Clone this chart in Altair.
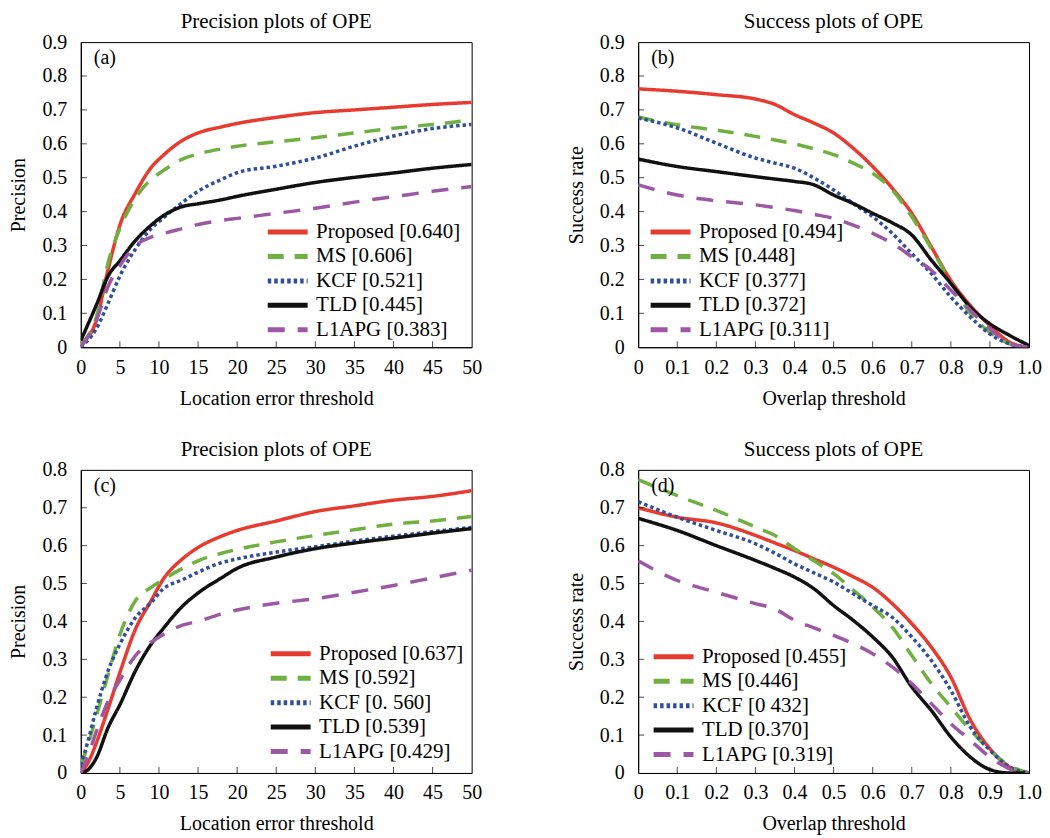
import altair as alt
import pandas as pd

FONT = "Liberation Serif, Times New Roman, serif"

# ---------------- data ----------------
series = ["Proposed", "MS", "KCF", "TLD", "L1APG"]
colors = ["#E63B2E", "#6FB040", "#2F4E9C", "#111111", "#9C58A5"]
dashes = [[1, 0], [16, 11], [3.5, 3], [1, 0], [17, 13]]

# panel (a): precision, location error threshold
xa = [0, 2, 3.5, 5, 7, 9, 10.5, 13, 15, 18, 20, 25, 30, 35, 40, 45, 50]
a_proposed = [0.01, 0.08, 0.23, 0.36, 0.455, 0.53, 0.565, 0.61, 0.632, 0.65, 0.66, 0.678, 0.692, 0.70, 0.708, 0.716, 0.722]
a_ms = [0.01, 0.09, 0.25, 0.35, 0.44, 0.495, 0.52, 0.555, 0.57, 0.585, 0.593, 0.606, 0.618, 0.632, 0.646, 0.657, 0.67]
a_kcf = [0.0, 0.055, 0.13, 0.21, 0.29, 0.35, 0.38, 0.427, 0.46, 0.495, 0.515, 0.534, 0.558, 0.593, 0.623, 0.645, 0.657]
a_tld = [0.02, 0.125, 0.21, 0.255, 0.315, 0.36, 0.387, 0.415, 0.423, 0.435, 0.445, 0.466, 0.486, 0.501, 0.514, 0.528, 0.539]
a_l1apg = [0.0, 0.08, 0.18, 0.24, 0.30, 0.325, 0.335, 0.35, 0.362, 0.374, 0.38, 0.395, 0.41, 0.428, 0.444, 0.46, 0.474]
a_scores = ["0.640", "0.606", "0.521", "0.445", "0.383"]

# panel (b): success, overlap threshold
xb = [0, 0.1, 0.2, 0.3, 0.35, 0.4, 0.45, 0.5, 0.55, 0.6, 0.65, 0.7, 0.75, 0.8, 0.85, 0.9, 0.95, 1.0]
b_proposed = [0.762, 0.755, 0.745, 0.732, 0.716, 0.686, 0.661, 0.632, 0.587, 0.533, 0.469, 0.395, 0.296, 0.197, 0.123, 0.064, 0.015, 0.0]
b_ms = [0.679, 0.656, 0.64, 0.622, 0.611, 0.60, 0.585, 0.568, 0.543, 0.513, 0.464, 0.385, 0.291, 0.192, 0.099, 0.044, 0.01, 0.0]
b_kcf = [0.676, 0.647, 0.602, 0.558, 0.543, 0.528, 0.499, 0.464, 0.424, 0.385, 0.336, 0.276, 0.217, 0.148, 0.089, 0.039, 0.01, 0.0]
b_tld = [0.555, 0.533, 0.518, 0.503, 0.496, 0.489, 0.479, 0.449, 0.424, 0.395, 0.367, 0.331, 0.257, 0.188, 0.118, 0.069, 0.035, 0.005]
b_l1apg = [0.479, 0.449, 0.432, 0.42, 0.412, 0.403, 0.392, 0.38, 0.36, 0.336, 0.306, 0.267, 0.227, 0.168, 0.109, 0.054, 0.01, 0.0]
b_scores = ["0.494", "0.448", "0.377", "0.372", "0.311"]

# panel (c): precision, location error threshold
xc = [0, 1, 2, 3.5, 5, 7, 9, 10.5, 13, 15, 18, 20, 25, 30, 35, 40, 45, 50]
c_proposed = [0.0, 0.03, 0.08, 0.17, 0.265, 0.38, 0.455, 0.51, 0.565, 0.595, 0.625, 0.64, 0.665, 0.69, 0.705, 0.72, 0.73, 0.745]
c_ms = [0.02, 0.08, 0.15, 0.26, 0.365, 0.455, 0.49, 0.51, 0.54, 0.56, 0.58, 0.59, 0.61, 0.627, 0.642, 0.657, 0.665, 0.677]
c_kcf = [0.02, 0.09, 0.17, 0.27, 0.34, 0.41, 0.45, 0.485, 0.51, 0.53, 0.555, 0.565, 0.583, 0.597, 0.612, 0.625, 0.637, 0.648]
c_tld = [0.0, 0.01, 0.04, 0.12, 0.18, 0.27, 0.34, 0.38, 0.44, 0.475, 0.515, 0.54, 0.57, 0.592, 0.607, 0.62, 0.633, 0.645]
c_l1apg = [0.0, 0.05, 0.11, 0.19, 0.245, 0.31, 0.345, 0.365, 0.39, 0.40, 0.42, 0.43, 0.448, 0.46, 0.477, 0.495, 0.515, 0.535]
c_scores = ["0.637", "0.592", "0. 560", "0.539", "0.429"]

# panel (d): success, overlap threshold
xd = [0, 0.1, 0.2, 0.3, 0.35, 0.4, 0.45, 0.5, 0.55, 0.6, 0.65, 0.7, 0.75, 0.8, 0.85, 0.9, 0.95, 1.0]
d_proposed = [0.70, 0.675, 0.66, 0.627, 0.607, 0.587, 0.565, 0.543, 0.518, 0.49, 0.447, 0.394, 0.332, 0.253, 0.14, 0.064, 0.016, 0.0]
d_ms = [0.774, 0.732, 0.693, 0.649, 0.627, 0.592, 0.56, 0.526, 0.483, 0.438, 0.385, 0.31, 0.236, 0.174, 0.113, 0.06, 0.02, 0.0]
d_kcf = [0.716, 0.675, 0.64, 0.605, 0.58, 0.552, 0.528, 0.504, 0.473, 0.442, 0.411, 0.359, 0.297, 0.218, 0.121, 0.06, 0.016, 0.0]
d_tld = [0.672, 0.64, 0.60, 0.561, 0.54, 0.517, 0.486, 0.442, 0.403, 0.359, 0.306, 0.227, 0.165, 0.095, 0.042, 0.009, 0.0, 0.0]
d_l1apg = [0.56, 0.508, 0.477, 0.447, 0.433, 0.403, 0.383, 0.363, 0.341, 0.315, 0.28, 0.236, 0.183, 0.13, 0.086, 0.042, 0.011, 0.0]
d_scores = ["0.455", "0.446", "0 432", "0.370", "0.319"]

loc_ticks = [0, 5, 10, 15, 20, 25, 30, 35, 40, 45, 50]
ovl_ticks = [0, 0.1, 0.2, 0.3, 0.4, 0.5, 0.6, 0.7, 0.8, 0.9, 1.0]
y9_ticks = [0, 0.1, 0.2, 0.3, 0.4, 0.5, 0.6, 0.7, 0.8, 0.9]
y8_ticks = [0, 0.1, 0.2, 0.3, 0.4, 0.5, 0.6, 0.7, 0.8]

ONE_DEC = "datum.value == 0 ? '0' : format(datum.value, '.1f')"


def panel(letter, title, xtitle, ytitle, xgrid, ylists, scores, xticks, yticks,
          xfmt, height, lx, ly):
    labels = [f"{s} [{sc}]" for s, sc in zip(series, scores)]
    rows = []
    for lab, yv in zip(labels, ylists):
        for xv, yy in zip(xgrid, yv):
            rows.append({"x": xv, "y": yy, "series": lab})
    df = pd.DataFrame(rows)
    xmax, ymax = xticks[-1], yticks[-1]
    xs = alt.Scale(domain=[0, xmax], nice=False, zero=False)
    ysc = alt.Scale(domain=[0, ymax], nice=False, zero=False)
    xaxis_kw = dict(values=xticks, title=xtitle, ticks=False, tickSize=0, grid=False,
                    labelPadding=10, titlePadding=11, labelFlush=False, labelOverlap=False,
                    labelFont=FONT, titleFont=FONT)
    if xfmt:
        xaxis_kw["labelExpr"] = ONE_DEC
    xaxis = alt.Axis(**xaxis_kw)
    yaxis = alt.Axis(values=yticks, title=ytitle, ticks=False, tickSize=0, grid=False,
                     labelPadding=14, titlePadding=13, labelExpr=ONE_DEC,
                     labelFlush=False, labelOverlap=False, labelFont=FONT, titleFont=FONT)
    leg = alt.Legend(orient="none", legendX=lx, legendY=ly, title=None,
                     labelFont=FONT, labelFontSize=21, labelColor="black",
                     symbolType="M-2,0H2", symbolSize=400, symbolStrokeWidth=5,
                     labelOffset=16, rowPadding=1.5, padding=0)
    lines = alt.Chart(df).mark_line(strokeWidth=3.5, interpolate="monotone", clip=True).encode(
        x=alt.X("x:Q", scale=xs, axis=xaxis),
        y=alt.Y("y:Q", scale=ysc, axis=yaxis),
        color=alt.Color("series:N", scale=alt.Scale(domain=labels, range=colors), legend=leg),
        strokeDash=alt.StrokeDash("series:N", scale=alt.Scale(domain=labels, range=dashes), legend=leg),
    )
    xt = alt.Chart(pd.DataFrame({"x": xticks[1:-1]})).mark_tick(
        orient="vertical", size=6, thickness=1, color="black", yOffset=-3
    ).encode(x=alt.X("x:Q", scale=xs, axis=xaxis), y=alt.Y(datum=0, scale=ysc, axis=yaxis))
    yt = alt.Chart(pd.DataFrame({"y": yticks[1:-1]})).mark_tick(
        orient="horizontal", size=6, thickness=1, color="black", xOffset=3
    ).encode(y=alt.Y("y:Q", scale=ysc, axis=yaxis), x=alt.X(datum=0, scale=xs, axis=xaxis))
    tag = alt.Chart(pd.DataFrame({"t": [f"({letter})"]})).mark_text(
        align="left", baseline="top", font=FONT, fontSize=20, color="black", dx=13, dy=6
    ).encode(x=alt.X(datum=0, scale=xs, axis=xaxis), y=alt.Y(datum=ymax, scale=ysc, axis=yaxis), text="t:N")
    return alt.layer(lines, xt, yt, tag).properties(
        width=392, height=height,
        title=alt.TitleParams(title, font=FONT, fontSize=21, fontWeight="normal",
                              color="black", offset=0),
    )


pa = panel("a", "Precision plots of OPE", "Location error threshold", "Precision", xa,
           [a_proposed, a_ms, a_kcf, a_tld, a_l1apg], a_scores, loc_ticks, y9_ticks, False, 306, 195, 178)
pb = panel("b", "Success plots of OPE", "Overlap threshold", "Success rate", xb,
           [b_proposed, b_ms, b_kcf, b_tld, b_l1apg], b_scores, ovl_ticks, y9_ticks, True, 306, 20, 178)
pc = panel("c", "Precision plots of OPE", "Location error threshold", "Precision", xc,
           [c_proposed, c_ms, c_kcf, c_tld, c_l1apg], c_scores, loc_ticks, y8_ticks, False, 304, 198, 172)
pd_ = panel("d", "Success plots of OPE", "Overlap threshold", "Success rate", xd,
            [d_proposed, d_ms, d_kcf, d_tld, d_l1apg], d_scores, ovl_ticks, y8_ticks, True, 304, 23, 175)

res = dict(x="independent", y="independent", color="independent", strokeDash="independent")
top = alt.hconcat(pa, pb, spacing=83).resolve_scale(**res).resolve_legend(color="independent", strokeDash="independent")
bot = alt.hconcat(pc, pd_, spacing=83).resolve_scale(**res).resolve_legend(color="independent", strokeDash="independent")

chart = alt.vconcat(top, bot, spacing=29).resolve_scale(**res).resolve_legend(
    color="independent", strokeDash="independent"
).properties(padding={"left": 0, "top": 1, "right": 0, "bottom": 0}).configure(
    font=FONT, background="white"
).configure_view(stroke="black", strokeWidth=1).configure_axis(
    domainColor="black", domainWidth=1, labelFont=FONT, labelFontSize=20, labelColor="black",
    titleFont=FONT, titleFontSize=20, titleFontWeight="normal", titleColor="black"
).configure_legend(labelFont=FONT).configure_title(font=FONT)

chart.save("out.html", embed_options={"renderer": "svg", "actions": False})
